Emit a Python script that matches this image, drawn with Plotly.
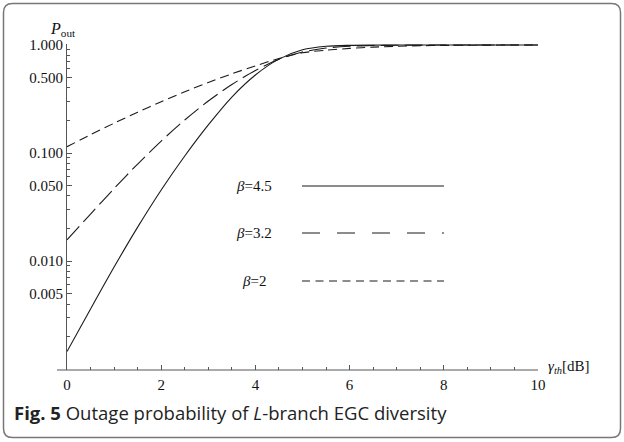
import plotly.graph_objects as go

# ---- data ----
gamma_th = [0, 0.5, 1, 1.5, 2, 2.5, 3, 3.5, 4, 4.5, 5, 5.5, 6, 6.5, 7, 7.5, 8, 8.5, 9, 9.5, 10]
p_beta45 = [0.00145, 0.0036, 0.0088, 0.0206, 0.0455, 0.0938, 0.182, 0.330, 0.528, 0.740, 0.903,
            0.973, 0.993, 0.998, 1.0, 1.0, 1.0, 1.0, 1.0, 1.0, 1.0]
p_beta32 = [0.0157, 0.0272, 0.0469, 0.0791, 0.129, 0.202, 0.303, 0.431, 0.581, 0.738, 0.861,
            0.938, 0.973, 0.988, 0.995, 0.998, 1.0, 1.0, 1.0, 1.0, 1.0]
p_beta2 = [0.1143, 0.1477, 0.1887, 0.2385, 0.2985, 0.369, 0.450, 0.541, 0.641, 0.750, 0.847,
           0.895, 0.93, 0.955, 0.973, 0.985, 0.992, 0.996, 0.998, 0.999, 1.0]
legend_labels = ["β=4.5", "β=3.2", "β=2"]

y_major = [0.005, 0.01, 0.05, 0.1, 0.5, 1.0]
y_major_text = ["0.005", "0.010", "0.050", "0.100", "0.500", "1.000"]
y_minor = [0.002, 0.003, 0.004, 0.006, 0.007, 0.008, 0.009,
           0.02, 0.03, 0.04, 0.06, 0.07, 0.08, 0.09,
           0.2, 0.3, 0.4, 0.6, 0.7, 0.8, 0.9]
x_major = [0, 2, 4, 6, 8, 10]
x_minor = [0.5, 1, 1.5, 2.5, 3, 3.5, 4.5, 5, 5.5, 6.5, 7, 7.5, 8.5, 9, 9.5]

# ---- geometry ----
W, H = 624, 442
L, R, T, B = 67, 86, 44, 72
PW, PH = W - L - R, H - T - B


def px(xpix):
    return (xpix - L) / PW


def py(ypix):
    return (H - B - ypix) / PH


LINE = "#1a1a1a"
AX = "#555555"
SERIF = "Liberation Serif"

fig = go.Figure()
styles = [("solid", p_beta45), ("18px,6px", p_beta32), ("9px,5px", p_beta2)]
for (dash, ys), name in zip(styles, legend_labels):
    fig.add_trace(go.Scatter(x=gamma_th, y=ys, mode="lines", name=name,
                             line=dict(color=LINE, width=1.1, dash=dash, shape="spline", smoothing=0.8),
                             showlegend=False))

shapes = []
# x axis line extending slightly left of origin
shapes.append(dict(type="line", xref="paper", yref="paper", x0=px(57), x1=1, y0=0, y1=0,
                   line=dict(color=AX, width=1)))

# hand-drawn legend
leg_y = [186, 233, 281]
leg_dash = ["solid", "18px,17px", "8px,5.5px"]
annotations = []
for yy, d, lab in zip(leg_y, leg_dash, legend_labels):
    shapes.append(dict(type="line", xref="paper", yref="paper", x0=px(302), x1=px(444),
                       y0=py(yy), y1=py(yy), line=dict(color=LINE, width=1.1, dash=d)))
    annotations.append(dict(xref="paper", yref="paper", x=px(254), y=py(yy), xanchor="center",
                            yanchor="middle", showarrow=False,
                            text="<i>β</i>=" + lab.split("=")[1],
                            font=dict(family=SERIF, size=15, color="#111")))

# rounded border
x0b, x1b, y0b, y1b = px(3.5), px(620.5), py(437.5), py(3.5)
rx, ry = 9 / PW, 9 / PH
path = (f"M {x0b+rx},{y1b} L {x1b-rx},{y1b} Q {x1b},{y1b} {x1b},{y1b-ry} "
        f"L {x1b},{y0b+ry} Q {x1b},{y0b} {x1b-rx},{y0b} L {x0b+rx},{y0b} "
        f"Q {x0b},{y0b} {x0b},{y0b+ry} L {x0b},{y1b-ry} Q {x0b},{y1b} {x0b+rx},{y1b} Z")
shapes.append(dict(type="path", xref="paper", yref="paper", path=path,
                   line=dict(color="#777777", width=1.5)))

annotations.append(dict(xref="paper", yref="paper", x=px(63), y=py(29), xanchor="center",
                        yanchor="middle", showarrow=False, text="<i>P</i><sub>out</sub>",
                        font=dict(family=SERIF, size=16, color="#111")))
annotations.append(dict(xref="paper", yref="paper", x=px(546), y=py(367), xanchor="left",
                        yanchor="middle", showarrow=False, text="<i>γ<sub>th</sub></i>[dB]",
                        font=dict(family=SERIF, size=15, color="#111")))
annotations.append(dict(xref="paper", yref="paper", x=px(12), y=py(413), xanchor="left",
                        yanchor="middle", showarrow=False,
                        text="<b>Fig. 5</b> Outage probability of <i>L</i>-branch EGC diversity",
                        font=dict(family="Open Sans", size=18.5, color="#222")))

fig.update_layout(
    width=W, height=H, margin=dict(l=L, r=R, t=T, b=B),
    paper_bgcolor="white", plot_bgcolor="white",
    shapes=shapes, annotations=annotations,
    xaxis=dict(range=[0, 10], showgrid=False, zeroline=False, showline=False,
               tickmode="array", tickvals=x_major, ticktext=[str(v) for v in x_major],
               ticks="inside", ticklen=5, tickcolor=AX, tickwidth=1, ticklabelstandoff=4,
               tickfont=dict(family=SERIF, size=15, color="#111"),
               minor=dict(tickmode="array", tickvals=x_minor, ticks="inside", ticklen=3,
                          tickcolor=AX, tickwidth=1, showgrid=False)),
    yaxis=dict(type="log", range=[-3.009, 0.0093], showgrid=False, zeroline=False,
               showline=True, linecolor=AX, linewidth=1,
               tickmode="array", tickvals=y_major, ticktext=y_major_text,
               ticks="inside", ticklen=5, tickcolor=AX, tickwidth=1,
               tickfont=dict(family=SERIF, size=15, color="#111"),
               minor=dict(tickmode="array", tickvals=y_minor, ticks="inside", ticklen=3,
                          tickcolor=AX, tickwidth=1, showgrid=False)),
)

fig.write_html("out.html")
